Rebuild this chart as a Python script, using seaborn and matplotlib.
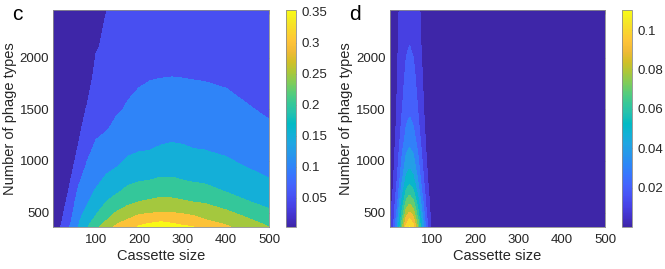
import numpy as np
import matplotlib
matplotlib.use("Agg")
import matplotlib.pyplot as plt
from matplotlib.colors import Normalize
from matplotlib.cm import ScalarMappable
import seaborn as sns

# Panel c: cassette size (columns) x number of phage types (rows)
cassette_c = [1, 20, 40, 60, 80, 100, 125, 150, 175, 200, 225, 250, 275, 300, 325, 350, 400, 450, 500]
phage_c = [360, 390, 430, 500, 600, 700, 800, 950, 1100, 1300, 1500, 1800, 2100, 2460]
prob_c = [
    [0.0054, 0.053, 0.101, 0.152, 0.196, 0.233, 0.280, 0.312, 0.334, 0.353, 0.353, 0.353, 0.353, 0.353, 0.3502, 0.335, 0.306, 0.276, 0.249],
    [0.004, 0.0493, 0.096, 0.1474, 0.1891, 0.2233, 0.265, 0.2992, 0.321, 0.3446, 0.3515, 0.3525, 0.351, 0.3455, 0.335, 0.3202, 0.2939, 0.2666, 0.240],
    [0.003, 0.0445, 0.090, 0.1422, 0.1799, 0.2104, 0.2473, 0.2831, 0.3017, 0.3228, 0.3342, 0.347, 0.3342, 0.3257, 0.315, 0.3005, 0.2804, 0.254, 0.228],
    [0.003, 0.0366, 0.082, 0.1332, 0.1638, 0.1927, 0.2284, 0.2548, 0.2737, 0.2893, 0.294, 0.3006, 0.2981, 0.2931, 0.2854, 0.2772, 0.2568, 0.2325, 0.207],
    [0.003, 0.0226, 0.072, 0.1203, 0.1452, 0.1737, 0.2014, 0.2235, 0.2389, 0.2511, 0.2567, 0.263, 0.2608, 0.255, 0.2492, 0.245, 0.2265, 0.2018, 0.187],
    [0.003, 0.0074, 0.060, 0.1074, 0.1331, 0.1546, 0.1808, 0.1957, 0.2136, 0.2245, 0.2284, 0.2332, 0.2322, 0.2275, 0.2225, 0.2172, 0.1985, 0.1846, 0.170],
    [0.003, 0.004, 0.0469, 0.095, 0.1211, 0.141, 0.1605, 0.1764, 0.1914, 0.1987, 0.2021, 0.2073, 0.2070, 0.2016, 0.1976, 0.1944, 0.183, 0.1682, 0.153],
    [0.003, 0.003, 0.022, 0.085, 0.103, 0.1232, 0.1384, 0.1485, 0.1632, 0.1719, 0.1756, 0.1796, 0.1808, 0.178, 0.175, 0.1721, 0.1599, 0.1469, 0.138],
    [0.003, 0.003, 0.011, 0.058, 0.094, 0.1053, 0.1205, 0.1323, 0.1423, 0.1476, 0.1499, 0.1545, 0.1571, 0.155, 0.1512, 0.1502, 0.1432, 0.1347, 0.125],
    [0.003, 0.003, 0.003, 0.034, 0.085, 0.095, 0.0985, 0.1107, 0.123, 0.1305, 0.1346, 0.1368, 0.1382, 0.1372, 0.1359, 0.1345, 0.1276, 0.1176, 0.104],
    [0.003, 0.003, 0.003, 0.005, 0.058, 0.088, 0.091, 0.0962, 0.1038, 0.1134, 0.1192, 0.1215, 0.1230, 0.1219, 0.1205, 0.119, 0.1119, 0.1018, 0.0957],
    [0.003, 0.003, 0.003, 0.003, 0.005, 0.078, 0.080, 0.0849, 0.091, 0.094, 0.098, 0.0998, 0.1004, 0.0999, 0.0985, 0.0975, 0.094, 0.090, 0.085],
    [0.003, 0.003, 0.003, 0.003, 0.003, 0.0421, 0.068, 0.0736, 0.079, 0.083, 0.086, 0.087, 0.0875, 0.087, 0.0865, 0.086, 0.083, 0.080, 0.076],
    [0.003, 0.003, 0.003, 0.003, 0.003, 0.020, 0.0496, 0.060, 0.068, 0.072, 0.074, 0.075, 0.075, 0.075, 0.0745, 0.074, 0.072, 0.070, 0.068],
]
levels_c = [0, 0.05, 0.10, 0.15, 0.20, 0.25, 0.30, 0.35, 0.40]
crange_c = (0.0025, 0.3527)
cticks_c = [0.05, 0.1, 0.15, 0.2, 0.25, 0.3, 0.35]
clabels_c = ["0.05", "0.1", "0.15", "0.2", "0.25", "0.3", "0.35"]

# Panel d
cassette_d = [1, 10, 20, 30, 40, 47, 55, 65, 75, 85, 95, 110, 500]
phage_d = [360, 390, 430, 500, 600, 700, 800, 950, 1100, 1300, 1500, 1800, 2100, 2460]
prob_d = [
    [0.0068, 0.0182, 0.0421, 0.0752, 0.1032, 0.1102, 0.1030, 0.0788, 0.0490, 0.0248, 0.0102, 0.0018, 0.0],
    [0.0066, 0.0175, 0.0406, 0.0725, 0.0994, 0.1060, 0.0992, 0.0759, 0.0472, 0.0239, 0.0098, 0.0018, 0.0],
    [0.0063, 0.0167, 0.0387, 0.0691, 0.0947, 0.1010, 0.0945, 0.0723, 0.0449, 0.0227, 0.0093, 0.0017, 0.0],
    [0.0056, 0.0149, 0.0345, 0.0616, 0.0844, 0.0900, 0.0842, 0.0644, 0.0401, 0.0203, 0.0083, 0.0015, 0.0],
    [0.0048, 0.0127, 0.0295, 0.0527, 0.0722, 0.0770, 0.0721, 0.0551, 0.0343, 0.0173, 0.0071, 0.0013, 0.0],
    [0.0041, 0.0109, 0.0253, 0.0451, 0.0619, 0.0660, 0.0618, 0.0473, 0.0294, 0.0149, 0.0061, 0.0011, 0.0],
    [0.0035, 0.0094, 0.0218, 0.0390, 0.0535, 0.0570, 0.0534, 0.0408, 0.0254, 0.0128, 0.0053, 0.0009, 0.0],
    [0.0030, 0.0079, 0.0184, 0.0328, 0.0450, 0.0480, 0.0449, 0.0344, 0.0214, 0.0108, 0.0044, 0.0008, 0.0],
    [0.0025, 0.0068, 0.0157, 0.0280, 0.0385, 0.0410, 0.0384, 0.0294, 0.0182, 0.0092, 0.0038, 0.0007, 0.0],
    [0.0020, 0.0054, 0.0131, 0.0226, 0.0310, 0.0330, 0.0309, 0.0236, 0.0147, 0.0074, 0.0031, 0.0005, 0.0],
    [0.0017, 0.0046, 0.0118, 0.0192, 0.0263, 0.0280, 0.0262, 0.0200, 0.0125, 0.0063, 0.0026, 0.0005, 0.0],
    [0.0015, 0.0040, 0.0102, 0.0164, 0.0225, 0.0240, 0.0225, 0.0172, 0.0107, 0.0054, 0.0022, 0.0004, 0.0],
    [0.0012, 0.0033, 0.0095, 0.0137, 0.0188, 0.0201, 0.0187, 0.0143, 0.0089, 0.0045, 0.0019, 0.0003, 0.0],
    [0.0011, 0.0029, 0.0090, 0.0120, 0.0164, 0.0175, 0.0164, 0.0125, 0.0078, 0.0039, 0.0016, 0.0003, 0.0],
]
levels_d = [0, 0.01, 0.02, 0.03, 0.04, 0.05, 0.06, 0.07, 0.08, 0.09, 0.10, 0.11, 0.12]
crange_d = (0.0, 0.1102)
cticks_d = [0.02, 0.04, 0.06, 0.08, 0.1]
clabels_d = ["0.02", "0.04", "0.06", "0.08", "0.1"]

xticks = [100, 200, 300, 400, 500]
yticks = [500, 1000, 1500, 2000]

# MATLAB parula (every third entry of the 64-colour map)
PARULA = [
    (0.2422, 0.1504, 0.6603), (0.2647, 0.1978, 0.7952), (0.2783, 0.2559, 0.8991),
    (0.2810, 0.3228, 0.9579), (0.2699, 0.3892, 0.9906), (0.2206, 0.4603, 0.9973),
    (0.1786, 0.5289, 0.9682), (0.1540, 0.5902, 0.9218), (0.1248, 0.6459, 0.8883),
    (0.0689, 0.6948, 0.8394), (0.0067, 0.7312, 0.7660), (0.1408, 0.7584, 0.6842),
    (0.2161, 0.7843, 0.5923), (0.3406, 0.8008, 0.4789), (0.5044, 0.7993, 0.3480),
    (0.6720, 0.7793, 0.2227), (0.8203, 0.7498, 0.1535), (0.9393, 0.7288, 0.2100),
    (0.9970, 0.7659, 0.2199), (0.9786, 0.8386, 0.1766), (0.9597, 0.9135, 0.1423),
    (0.9769, 0.9839, 0.0805),
]

sns.set_theme(style="white")
plt.rcParams["font.family"] = ["Liberation Sans", "DejaVu Sans"]
parula = sns.blend_palette(PARULA, n_colors=256, as_cmap=True)

TEXT = "#262626"
EDGE = "#8c8c8c"

fig = plt.figure(figsize=(6.65, 2.69), dpi=100)
bottom, height = 42 / 269, 217 / 269
ax_c = fig.add_axes([53.3 / 665, bottom, 216 / 665, height])
cax_c = fig.add_axes([286 / 665, bottom, 10 / 665, height])
ax_d = fig.add_axes([389.7 / 665, bottom, 215.6 / 665, height])
cax_d = fig.add_axes([622 / 665, bottom, 10 / 665, height])


def draw_panel(ax, cax, xs, ys, zs, levels, crange, cticks, clabels, letter, lx):
    norm = Normalize(*crange)
    # MATLAB fills each band with the colour of its lower level
    band_colors = [parula(norm(v)) for v in levels[:-1]]
    cs = ax.contourf(xs, ys, np.array(zs), levels=levels, colors=band_colors)
    # hide the hairline seams between bands
    cs.set_edgecolor("face")
    cs.set_linewidth(0.4)
    ax.set_xlim(1, 500)
    ax.set_ylim(360, 2460)
    ax.set_xticks(xticks)
    ax.set_yticks(yticks)
    ax.tick_params(direction="in", length=3, width=0.6, color=EDGE, labelcolor=TEXT,
                   labelsize=9.5, top=True, right=True)
    ax.tick_params(axis="x", pad=5)
    ax.tick_params(axis="y", pad=3)
    for sp in ax.spines.values():
        sp.set_color(EDGE)
        sp.set_linewidth(0.6)
        sp.set_zorder(5)
    ax.set_xlabel("Cassette size", fontsize=10.5, color=TEXT, labelpad=2)
    ax.set_ylabel("Number of phage types", fontsize=10.5, color=TEXT, labelpad=2)

    cb = fig.colorbar(ScalarMappable(norm=norm, cmap=parula), cax=cax)
    cb.set_ticks(cticks)
    cb.set_ticklabels(clabels)
    cb.outline.set_edgecolor(EDGE)
    cb.outline.set_linewidth(0.6)
    cax.tick_params(direction="in", length=2.5, width=0.6, color=EDGE, labelcolor=TEXT,
                    labelsize=9.5, pad=4)

    fig.text(lx, 1 - 20 / 269, letter, fontsize=15, color="black", va="baseline")


draw_panel(ax_c, cax_c, cassette_c, phage_c, prob_c, levels_c, crange_c,
           cticks_c, clabels_c, "c", 12 / 665)
draw_panel(ax_d, cax_d, cassette_d, phage_d, prob_d, levels_d, crange_d,
           cticks_d, clabels_d, "d", 349 / 665)

fig.savefig("out.png", dpi=100)
